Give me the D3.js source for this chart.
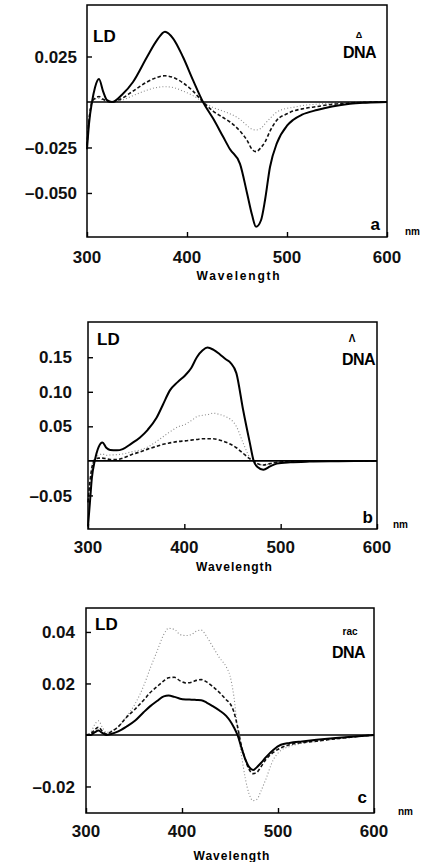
<!DOCTYPE html>
<html>
<head>
<meta charset="utf-8">
<script src="https://cdn.jsdelivr.net/npm/d3@7"></script>
<style>
  body { margin: 0; background: #fff; }
  svg { display: block; font-family: "Liberation Sans", Arial, sans-serif; }
</style>
</head>
<body>
<svg id="chart" width="426" height="862"></svg>
<script>
// panel a: Delta enantiomer
const aWavelength = [300, 302, 305, 308, 312, 316, 320, 325, 335, 346, 360, 370, 378, 386, 396, 406, 416, 426, 436, 443, 453, 460, 465, 469, 474, 478, 483, 490, 500, 506, 515, 530, 545, 563, 580, 600];
const aSolid = [-0.026, -0.012, 0, 0.008, 0.0126, 0.006, 0.001, 0, 0.004, 0.011, 0.0247, 0.034, 0.0386, 0.035, 0.0247, 0.012, 0, -0.009, -0.019, -0.026, -0.034, -0.05, -0.062, -0.0686, -0.065, -0.054, -0.0357, -0.0225, -0.013, -0.0099, -0.007, -0.0044, -0.0025, -0.001, -0.0004, 0];
const aDashed = [-0.024, -0.01, 0, 0.002, 0.003, 0.0015, 0.0005, 0, 0.002, 0.006, 0.011, 0.0135, 0.0144, 0.0135, 0.0105, 0.006, 0, -0.005, -0.0085, -0.011, -0.016, -0.021, -0.026, -0.0273, -0.025, -0.022, -0.016, -0.0099, -0.0065, -0.005, -0.0038, -0.0025, -0.0013, -0.0006, -0.0002, 0];
const aDotted = [-0.022, -0.009, 0, 0.0015, 0.002, 0.001, 0.0003, 0, 0.001, 0.0035, 0.0065, 0.008, 0.0084, 0.008, 0.006, 0.0035, 0, -0.003, -0.005, -0.0065, -0.0095, -0.013, -0.015, -0.0154, -0.0145, -0.012, -0.009, -0.0055, -0.0035, -0.003, -0.002, -0.0012, -0.0006, -0.0003, 0, 0];
const aTicks = [0.025, -0.025, -0.05];
const aTickLabels = ['0.025', '\u20130.025', '\u20130.050'];

// panel b: Lambda enantiomer
const bWavelength = [300, 302, 304, 307, 311, 315, 319, 323, 330, 336, 345, 354, 362, 371, 378, 385, 393, 401, 407, 413, 419, 424, 430, 437, 443, 448, 454, 461, 468, 472, 476, 482, 489, 496, 510, 530, 560, 600];
const bSolid = [-0.095, -0.06, -0.025, 0, 0.02, 0.0266, 0.019, 0.0158, 0.0152, 0.017, 0.025, 0.034, 0.045, 0.062, 0.082, 0.102, 0.114, 0.124, 0.134, 0.15, 0.16, 0.164, 0.161, 0.154, 0.147, 0.142, 0.127, 0.074, 0.026, 0, -0.009, -0.013, -0.008, -0.004, -0.002, -0.001, -0.0005, 0];
const bDashed = [-0.06, -0.03, -0.01, 0.002, 0.004, 0.004, 0.003, 0.002, 0.002, 0.004, 0.009, 0.013, 0.017, 0.021, 0.024, 0.026, 0.028, 0.029, 0.03, 0.031, 0.032, 0.032, 0.032, 0.03, 0.027, 0.024, 0.019, 0.011, 0.003, 0, -0.004, -0.006, -0.004, -0.002, -0.001, -0.0005, 0, 0];
const bDotted = [-0.06, -0.03, -0.01, 0.003, 0.008, 0.01, 0.008, 0.0085, 0.009, 0.01, 0.013, 0.016, 0.02, 0.028, 0.035, 0.042, 0.049, 0.053, 0.058, 0.064, 0.066, 0.067, 0.069, 0.067, 0.064, 0.06, 0.05, 0.026, 0.005, 0, -0.004, -0.006, -0.004, -0.002, -0.001, -0.0005, 0, 0];
const bTicks = [0.15, 0.10, 0.05, -0.05];
const bTickLabels = ['0.15', '0.10', '0.05', '\u20130.05'];

// panel c: racemate
const cWavelength = [300, 305, 309, 313, 317, 321, 326, 333, 342, 351, 360, 367, 374, 381, 386, 392, 398, 404, 410, 415, 420, 426, 432, 439, 446, 450, 454, 458, 462, 466, 470, 474, 478, 482, 487, 495, 503, 512, 525, 540, 560, 580, 600];
const cSolid = [0, 0, 0.001, 0.0017, 0.0008, 0, 0.0004, 0.0013, 0.0032, 0.0055, 0.0088, 0.0112, 0.0132, 0.015, 0.0153, 0.0148, 0.0141, 0.0138, 0.0137, 0.0136, 0.0135, 0.0125, 0.0112, 0.0095, 0.0074, 0.0055, 0.003, -0.0002, -0.005, -0.0095, -0.0125, -0.0136, -0.0125, -0.011, -0.0088, -0.0058, -0.0038, -0.0031, -0.0025, -0.0019, -0.0012, -0.0006, 0];
const cDashed = [0, 0.0005, 0.002, 0.003, 0.0015, 0.0004, 0.0012, 0.003, 0.0068, 0.01, 0.0135, 0.0165, 0.0188, 0.021, 0.0222, 0.0224, 0.021, 0.0202, 0.0205, 0.0212, 0.0215, 0.0205, 0.0188, 0.0165, 0.0137, 0.0122, 0.009, 0.003, -0.0045, -0.0095, -0.0135, -0.015, -0.0145, -0.0125, -0.0097, -0.0068, -0.005, -0.0038, -0.003, -0.0024, -0.0015, -0.0007, 0];
const cDotted = [0, 0.001, 0.004, 0.0055, 0.003, 0.001, 0.0015, 0.003, 0.007, 0.012, 0.019, 0.026, 0.0325, 0.039, 0.0414, 0.041, 0.039, 0.0386, 0.039, 0.0403, 0.0407, 0.038, 0.0343, 0.03, 0.0265, 0.023, 0.015, 0.002, -0.008, -0.017, -0.023, -0.0255, -0.025, -0.022, -0.0175, -0.0097, -0.006, -0.0045, -0.0032, -0.0025, -0.0016, -0.0008, 0];
const cTicks = [0.04, 0.02, -0.02];
const cTickLabels = ['0.04', '0.02', '\u20130.02'];

const xTicks = [300, 400, 500, 600];
const panelLetters = ['a', 'b', 'c'];
const panelSymbols = ['\u0394', '\u039B', 'rac'];

let svg = d3.select('#chart');

let panels = [
  {
    wl: aWavelength, solid: aSolid, dashed: aDashed, dotted: aDotted,
    ticks: aTicks, tickLabels: aTickLabels,
    box: {left: 87, right: 387, top: 5, bottom: 237},
    yDomain: [-0.0742, 0.0533], labelGap: 10, wlSpacing: 1.8,
    textPos: {ld: [93, 42], sym: [359, 38, 9], dna: [343, 58], letter: [380, 230], nm: [405, 235], xl: 26, wl: 43}
  },
  {
    wl: bWavelength, solid: bSolid, dashed: bDashed, dotted: bDotted,
    ticks: bTicks, tickLabels: bTickLabels,
    box: {left: 88, right: 377, top: 322, bottom: 529},
    yDomain: [-0.0986, 0.201], labelGap: 16, wlSpacing: 1,
    textPos: {ld: [97, 345], sym: [352, 342, 10], dna: [342, 365], letter: [373, 523], nm: [393, 528], xl: 24, wl: 42}
  },
  {
    wl: cWavelength, solid: cSolid, dashed: cDashed, dotted: cDotted,
    ticks: cTicks, tickLabels: cTickLabels,
    box: {left: 86, right: 374, top: 608, bottom: 813},
    yDomain: [-0.0303, 0.0493], labelGap: 11, wlSpacing: 1,
    textPos: {ld: [95, 630], sym: [350, 635, 10], dna: [332, 658], letter: [367, 803], nm: [398, 815], xl: 24, wl: 47}
  }
];

panels.forEach((p, i) => drawPanel(p, i));

function drawPanel(p, i) {
  let b = p.box;
  let x = d3.scaleLinear().domain([300, 600]).range([b.left, b.right]);
  let y = d3.scaleLinear().domain(p.yDomain).range([b.bottom, b.top]);
  let g = svg.append('g');

  let line = d3.line()
    .x(d => x(d[0]))
    .y(d => y(d[1]))
    .curve(d3.curveMonotoneX);

  let series = [
    {values: p.dotted, color: '#8a8a8a', width: 1.1, dash: '1,2.2'},
    {values: p.dashed, color: '#111', width: 1.6, dash: '3.5,2.2'},
    {values: p.solid, color: '#000', width: 2, dash: null}
  ];

  series.forEach(s => {
    g.append('path')
      .datum(p.wl.map((w, k) => [w, s.values[k]]))
      .attr('fill', 'none')
      .attr('stroke', s.color)
      .attr('stroke-width', s.width)
      .attr('stroke-dasharray', s.dash)
      .attr('d', line);
  });

  // zero line
  g.append('line')
    .attr('x1', b.left).attr('x2', b.right)
    .attr('y1', y(0)).attr('y2', y(0))
    .attr('stroke', '#000').attr('stroke-width', 1.6);

  g.append('rect')
    .attr('x', b.left).attr('y', b.top)
    .attr('width', b.right - b.left).attr('height', b.bottom - b.top)
    .attr('fill', 'none').attr('stroke', '#000').attr('stroke-width', 1.5);

  let yAxis = d3.axisRight(y)
    .tickValues(p.ticks)
    .tickSize(5)
    .tickFormat('');
  g.append('g')
    .attr('transform', `translate(${b.left},0)`)
    .call(yAxis)
    .call(a => a.select('.domain').remove())
    .selectAll('line').attr('stroke-width', 1.4);

  g.selectAll('.ylab')
    .data(p.ticks)
    .join('text')
    .attr('x', b.left - p.labelGap)
    .attr('y', d => y(d))
    .attr('dy', '0.36em')
    .attr('text-anchor', 'end')
    .attr('font-size', 17)
    .attr('font-weight', 'bold')
    .attr('fill', '#111')
    .text((d, k) => p.tickLabels[k]);

  let xAxis = d3.axisTop(x)
    .tickValues(xTicks)
    .tickSize(5)
    .tickFormat('');
  g.append('g')
    .attr('transform', `translate(0,${b.bottom})`)
    .call(xAxis)
    .call(a => a.select('.domain').remove())
    .selectAll('line').attr('stroke-width', 1.4);

  g.selectAll('.xlab')
    .data(xTicks)
    .join('text')
    .attr('x', d => x(d))
    .attr('y', b.bottom + p.textPos.xl)
    .attr('text-anchor', 'middle')
    .attr('font-size', 17)
    .attr('font-weight', 'bold')
    .attr('fill', '#111')
    .text(d => d);

  let t = p.textPos;
  g.append('text')
    .attr('x', (b.left + b.right) / 2 + 2)
    .attr('y', b.bottom + t.wl)
    .attr('text-anchor', 'middle')
    .attr('font-size', 12)
    .attr('font-weight', 'bold')
    .attr('letter-spacing', p.wlSpacing)
    .text('Wavelength');

  g.append('text')
    .attr('x', t.ld[0]).attr('y', t.ld[1])
    .attr('font-size', 17)
    .attr('font-weight', 'bold')
    .text('LD');

  g.append('text')
    .attr('x', t.sym[0]).attr('y', t.sym[1])
    .attr('text-anchor', 'middle')
    .attr('font-size', t.sym[2])
    .attr('font-weight', 'bold')
    .text(panelSymbols[i]);

  g.append('text')
    .attr('x', t.dna[0]).attr('y', t.dna[1])
    .attr('font-size', 16)
    .attr('font-weight', 'bold')
    .attr('letter-spacing', -0.5)
    .text('DNA');

  g.append('text')
    .attr('x', t.letter[0]).attr('y', t.letter[1])
    .attr('text-anchor', 'end')
    .attr('font-size', 17)
    .attr('font-weight', 'bold')
    .text(panelLetters[i]);

  g.append('text')
    .attr('x', t.nm[0]).attr('y', t.nm[1])
    .attr('font-size', 10)
    .attr('font-weight', 'bold')
    .text('nm');
}
</script>
</body>
</html>
